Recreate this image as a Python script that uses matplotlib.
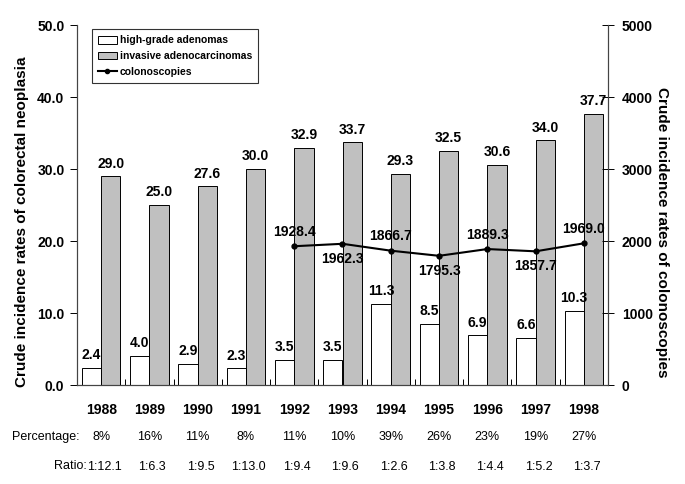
import matplotlib.pyplot as plt
import matplotlib.patches as mpatches
import matplotlib.lines as mlines
import numpy as np

plt.rcParams['font.family'] = ['Liberation Sans', 'DejaVu Sans']
plt.rcParams['font.weight'] = 'bold'

# data
years = ['1988', '1989', '1990', '1991', '1992', '1993', '1994', '1995', '1996', '1997', '1998']
adenomas = [2.4, 4.0, 2.9, 2.3, 3.5, 3.5, 11.3, 8.5, 6.9, 6.6, 10.3]
carcinomas = [29.0, 25.0, 27.6, 30.0, 32.9, 33.7, 29.3, 32.5, 30.6, 34.0, 37.7]
colo_years = ['1992', '1993', '1994', '1995', '1996', '1997', '1998']
colonoscopies = [1928.4, 1962.3, 1866.7, 1795.3, 1889.3, 1857.7, 1969.0]
percentages = ['8%', '16%', '11%', '8%', '11%', '10%', '39%', '26%', '23%', '19%', '27%']
ratios = ['1:12.1', '1:6.3', '1:9.5', '1:13.0', '1:9.4', '1:9.6', '1:2.6', '1:3.8', '1:4.4', '1:5.2', '1:3.7']

gray = '#c0c0c0'
x = np.arange(len(years))
w = 0.4

fig = plt.figure(figsize=(6.85, 4.84), dpi=100)
ax = fig.add_axes([0.1124, 0.2045, 0.7752, 0.7435])
ax2 = ax.twinx()

ax.bar(x - w / 2, adenomas, w, color='white', edgecolor='black', linewidth=0.7, zorder=2)
ax.bar(x + w / 2, carcinomas, w, color=gray, edgecolor='black', linewidth=0.7, zorder=2)

for i in range(len(years)):
    ax.text(x[i] - w / 2, adenomas[i] + 0.8, '%.1f' % adenomas[i], ha='center', va='bottom',
            fontsize=10, fontweight='bold')
    ax.text(x[i] + w / 2, carcinomas[i] + 0.8, '%.1f' % carcinomas[i], ha='center', va='bottom',
            fontsize=10, fontweight='bold')

cx = [years.index(y) for y in colo_years]
ax2.plot(cx, colonoscopies, color='black', linewidth=1.5, marker='o', markersize=3.5, zorder=3)
for j, (xi, v) in enumerate(zip(cx, colonoscopies)):
    if j % 2 == 0:
        ax2.text(xi, v + 100, '%.1f' % v, ha='center', va='bottom', fontsize=10, fontweight='bold')
    else:
        ax2.text(xi, v - 110, '%.1f' % v, ha='center', va='top', fontsize=10, fontweight='bold')

ax.set_xlim(-0.5, len(years) - 0.5)
ax.set_ylim(0, 50)
ax2.set_ylim(0, 5000)
ax.set_yticks(np.arange(0, 51, 10))
ax.set_yticklabels(['%.1f' % t for t in np.arange(0, 51, 10)], fontsize=10, fontweight='bold')
ax2.set_yticks(np.arange(0, 5001, 1000))
ax2.set_yticklabels([str(t) for t in range(0, 5001, 1000)], fontsize=10, fontweight='bold')

ax.set_xticks(np.arange(-0.5, len(years), 1.0))
ax.set_xticklabels([])
ax.tick_params(axis='x', direction='in', length=4, width=0.7)
ax.tick_params(axis='y', direction='out', length=5, width=0.7, pad=4)
ax2.tick_params(axis='y', direction='inout', length=8, width=0.7, pad=6)

for a in (ax, ax2):
    a.spines['top'].set_visible(False)
    for s in ('left', 'right', 'bottom'):
        a.spines[s].set_linewidth(0.8)
        a.spines[s].set_color('#444444')

trans = ax.get_xaxis_transform()
for i in range(len(years)):
    ax.text(x[i], -0.07, years[i], transform=trans, ha='center', va='center', fontsize=10, fontweight='bold')
    ax.text(x[i], -0.145, percentages[i], transform=trans, ha='center', va='center', fontsize=9,
            fontweight='normal')
    ax.text(x[i] + 0.06, -0.227, ratios[i], transform=trans, ha='center', va='center', fontsize=9,
            fontweight='normal')
fig.text(12 / 685, 1 - 437 / 484, 'Percentage:', ha='left', va='center', fontsize=9, fontweight='normal')
fig.text(87 / 685, 1 - 466 / 484, 'Ratio:', ha='right', va='center', fontsize=9, fontweight='normal')

fig.text(22 / 685, 1 - 222 / 484, 'Crude incidence rates of colorectal neoplasia', rotation=90,
         ha='center', va='center', fontsize=11, fontweight='bold')
fig.text(662 / 685, 1 - 232 / 484, 'Crude incidence rates of colonoscopies', rotation=270,
         ha='center', va='center', fontsize=11, fontweight='bold')

handles = [mpatches.Patch(facecolor='white', edgecolor='black', linewidth=0.7, label='high-grade adenomas'),
           mpatches.Patch(facecolor=gray, edgecolor='black', linewidth=0.7, label='invasive adenocarcinomas'),
           mlines.Line2D([], [], color='black', linewidth=1.5, marker='o', markersize=3,
                         label='colonoscopies')]
leg = ax2.legend(handles=handles, loc='upper left', bbox_to_anchor=(0.028, 0.989), borderaxespad=0,
                 fontsize=7.5, frameon=True, fancybox=False, handlelength=1.8, handleheight=0.8,
                 handletextpad=0.3, labelspacing=0.55, borderpad=0.6)
leg.get_frame().set_edgecolor('black')
leg.get_frame().set_linewidth(0.8)
for t in leg.get_texts():
    t.set_fontweight('bold')

fig.savefig('out.png', dpi=100)
